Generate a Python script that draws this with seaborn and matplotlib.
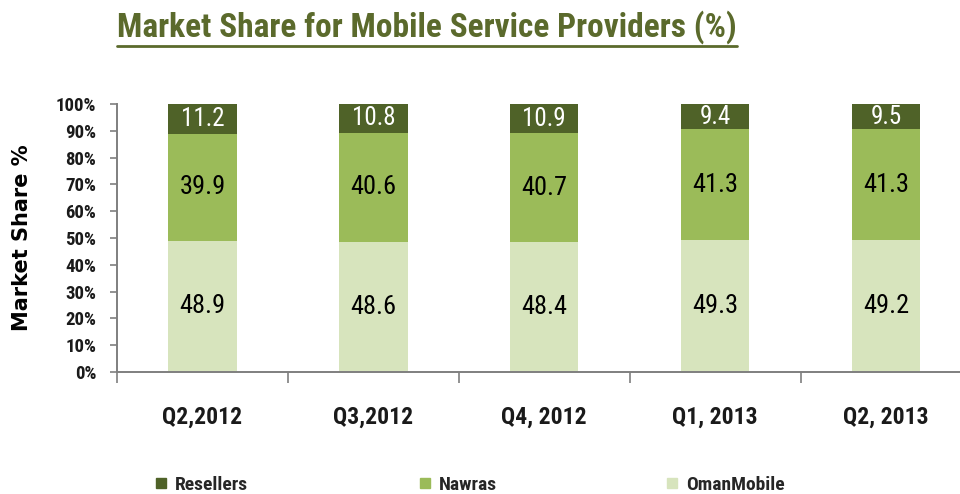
import numpy as np
import pandas as pd
import matplotlib
matplotlib.use("Agg")
import matplotlib.pyplot as plt
import seaborn as sns
from matplotlib.ticker import PercentFormatter, MultipleLocator, FixedLocator
from matplotlib.lines import Line2D

quarters = ["Q2,2012", "Q3,2012", "Q4, 2012", "Q1, 2013", "Q2, 2013"]
oman_mobile = [48.9, 48.6, 48.4, 49.3, 49.2]
nawras = [39.9, 40.6, 40.7, 41.3, 41.3]
resellers = [11.2, 10.8, 10.9, 9.4, 9.5]
series = ["Resellers", "Nawras", "OmanMobile"]

colors = {"Resellers": "#4f6228", "Nawras": "#9bbb59", "OmanMobile": "#d7e4bd"}

sns.set_theme(style="white")
plt.rcParams["font.family"] = ["Roboto Condensed", "Liberation Sans Narrow", "DejaVu Sans"]
plt.rcParams["font.stretch"] = "condensed"

df = pd.DataFrame({"Quarter": quarters, "OmanMobile": oman_mobile,
                   "Nawras": nawras, "Resellers": resellers})
df["top_nawras"] = df["OmanMobile"] + df["Nawras"]
df["top_res"] = df["top_nawras"] + df["Resellers"]

fig = plt.figure(figsize=(9.6, 4.94), dpi=100)
ax = fig.add_axes([0.1219, 0.247, 0.890, 0.5425])

# stacked bars drawn as overlapping cumulative bars
for col, name in [("top_res", "Resellers"), ("top_nawras", "Nawras"),
                  ("OmanMobile", "OmanMobile")]:
    sns.barplot(data=df, x="Quarter", y=col, color=colors[name],
                width=0.4, saturation=1, linewidth=0, ax=ax)

# segment labels
for i, row in df.iterrows():
    ax.text(i, row["OmanMobile"] / 2, f"{row['OmanMobile']:.1f}", ha="center",
            va="center", fontsize=19, color="black")
    ax.text(i, row["OmanMobile"] + row["Nawras"] / 2, f"{row['Nawras']:.1f}",
            ha="center", va="center", fontsize=19, color="black")
    ax.text(i, row["top_nawras"] + row["Resellers"] / 2, f"{row['Resellers']:.1f}",
            ha="center", va="center", fontsize=18, color="white")

ax.set_xlim(-0.5, 4.5)
ax.set_ylim(0, 100)
ax.yaxis.set_major_locator(MultipleLocator(10))
ax.yaxis.set_major_formatter(PercentFormatter(decimals=0))
ax.xaxis.set_minor_locator(FixedLocator(np.arange(-0.5, 5, 1)))
ax.tick_params(axis="x", which="major", length=0, pad=24, labelsize=17)
ax.tick_params(axis="x", which="minor", length=8, width=1.2, color="#7f7f7f",
               direction="out", bottom=True)
ax.tick_params(axis="y", length=5, width=1.2, color="#7f7f7f", direction="out",
               left=True, labelsize=13.5, pad=10)
for lab in ax.get_yticklabels() + ax.get_xticklabels():
    lab.set_fontweight("bold")
    lab.set_color("#1a1a1a")

ax.set_xlabel("")
ax.set_ylabel("Market Share %", fontsize=15, fontweight="bold",
              family=["DejaVu Sans"], fontstretch="normal", labelpad=17, color="black")
for side in ["top", "right"]:
    ax.spines[side].set_visible(False)
for side in ["left", "bottom"]:
    ax.spines[side].set_color("#7f7f7f")
    ax.spines[side].set_linewidth(1.4)

# legend along the bottom, one entry per block like the original
for name, x0 in zip(series, [0.160, 0.435, 0.692]):
    h = Line2D([], [], marker="s", linestyle="", markersize=7, color=colors[name])
    fig.legend([h], [name], loc="center left", bbox_to_anchor=(x0, 0.018),
               frameon=False, handlelength=0.8, handletextpad=0.3,
               borderpad=0, borderaxespad=0,
               prop={"weight": "bold", "size": 14})

title = fig.text(0.122, 0.945, "Market Share for Mobile Service Providers (%)",
                 fontsize=24, fontweight="bold", color="#5b6a2c",
                 ha="left", va="center")

# underline under the title
fig.canvas.draw()
bb = title.get_window_extent().transformed(fig.transFigure.inverted())
fig.add_artist(Line2D([bb.x0, bb.x1], [bb.y0 - 0.004, bb.y0 - 0.004],
                      transform=fig.transFigure, color="#5b6a2c", linewidth=2))

fig.savefig("out.png", dpi=100)
